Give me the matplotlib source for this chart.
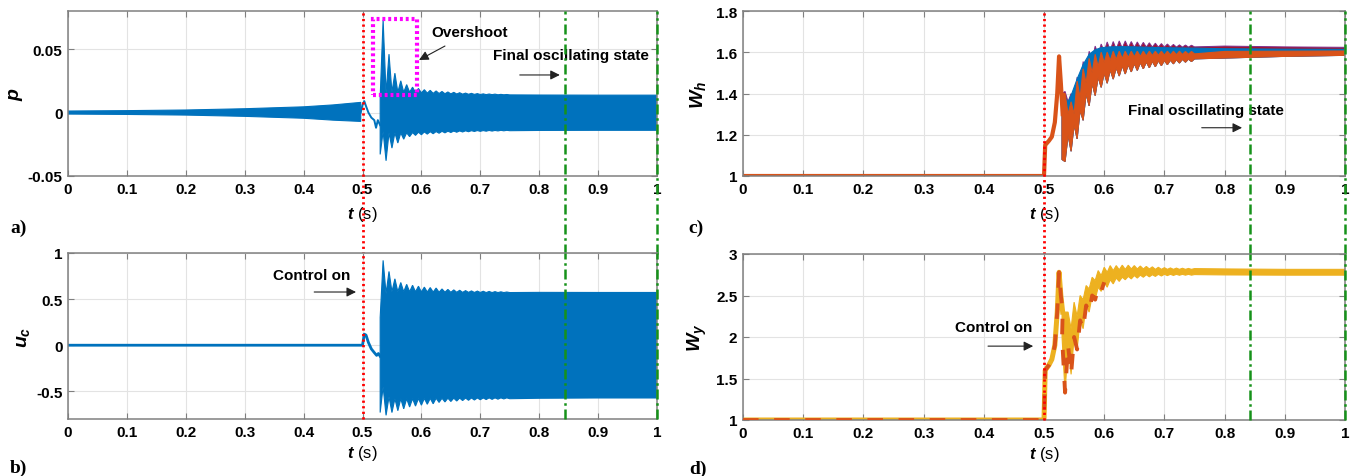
import numpy as np
import matplotlib
matplotlib.use("Agg")
import matplotlib.pyplot as plt
from matplotlib.patches import Rectangle

plt.rcParams.update({
    "font.family": ["Liberation Sans", "DejaVu Sans"],
    "font.weight": "bold",
    "mathtext.fontset": "custom",
    "mathtext.rm": "Liberation Sans:bold",
    "mathtext.it": "Liberation Sans:italic:bold",
    "mathtext.bf": "Liberation Sans:bold",
})

# ---------------- data ----------------
# common time grid of the oscillation envelopes (s)
t_osc = [0.530, 0.535, 0.540, 0.545, 0.550, 0.555, 0.560, 0.565, 0.570, 0.575,
         0.580, 0.585, 0.590, 0.595, 0.600, 0.605, 0.610, 0.615, 0.620, 0.625,
         0.630, 0.635, 0.640, 0.645, 0.650, 0.655, 0.660, 0.665, 0.670, 0.675,
         0.680, 0.685, 0.690, 0.695, 0.700, 0.705, 0.710, 0.715, 0.720, 0.725,
         0.730, 0.735, 0.740, 0.745, 0.750, 0.800, 0.900, 1.000]

# a) p
p_pre_t = [0.0, 0.1, 0.2, 0.3, 0.4, 0.45, 0.497]
p_pre_up = [0.0012, 0.0015, 0.002, 0.003, 0.0045, 0.006, 0.008]
p_pre_lo = [-0.0012, -0.0015, -0.002, -0.003, -0.0045, -0.006, -0.007]
p_tr_t = [0.497, 0.500, 0.503, 0.506, 0.510, 0.515, 0.520, 0.523, 0.526, 0.530]
p_tr = [0.0, 0.006, 0.009, 0.005, 0.0, -0.004, -0.006, -0.012, -0.006, -0.010]
p_up = [0.012, 0.073, 0.015, 0.046, 0.016, 0.031, 0.016, 0.025, 0.016, 0.022,
        0.016, 0.020, 0.0158, 0.019, 0.0155, 0.018, 0.0153, 0.0175, 0.0151, 0.017,
        0.015, 0.0166, 0.0148, 0.0162, 0.0147, 0.0159, 0.0146, 0.0156, 0.0145, 0.0153,
        0.0144, 0.0151, 0.0143, 0.0149, 0.0142, 0.0147, 0.0141, 0.0146, 0.0141, 0.0145,
        0.014, 0.0143, 0.014, 0.0142, 0.0139, 0.0138, 0.0137, 0.0137]
p_lo = [-0.033, -0.015, -0.038, -0.016, -0.028, -0.016, -0.024, -0.016, -0.021, -0.016,
        -0.019, -0.0158, -0.018, -0.0155, -0.0175, -0.0153, -0.017, -0.0151, -0.0167, -0.015,
        -0.0163, -0.0148, -0.0160, -0.0147, -0.0157, -0.0146, -0.0155, -0.0145, -0.0153, -0.0144,
        -0.0151, -0.0143, -0.0149, -0.0142, -0.0148, -0.0142, -0.0147, -0.0141, -0.0146, -0.0141,
        -0.0145, -0.014, -0.0144, -0.014, -0.0143, -0.0141, -0.014, -0.014]

# b) u_c
u_tr_t = [0.0, 0.500, 0.503, 0.506, 0.510, 0.515, 0.520, 0.524, 0.527, 0.530]
u_tr = [0.0, 0.0, 0.12, 0.11, 0.03, -0.04, -0.08, -0.11, -0.09, -0.12]
u_up = [0.30, 0.92, 0.56, 0.80, 0.58, 0.72, 0.58, 0.68, 0.58, 0.66,
        0.58, 0.65, 0.58, 0.64, 0.578, 0.63, 0.577, 0.625, 0.576, 0.62,
        0.575, 0.61, 0.575, 0.605, 0.574, 0.60, 0.574, 0.596, 0.573, 0.592,
        0.573, 0.589, 0.572, 0.587, 0.572, 0.585, 0.571, 0.583, 0.571, 0.581,
        0.571, 0.579, 0.571, 0.577, 0.571, 0.573, 0.572, 0.572]
u_lo = [-0.73, -0.45, -0.76, -0.56, -0.73, -0.58, -0.71, -0.58, -0.69, -0.58,
        -0.67, -0.58, -0.66, -0.578, -0.65, -0.577, -0.64, -0.576, -0.635, -0.575,
        -0.62, -0.575, -0.615, -0.574, -0.61, -0.574, -0.605, -0.573, -0.60, -0.573,
        -0.597, -0.572, -0.594, -0.572, -0.591, -0.572, -0.589, -0.571, -0.587, -0.571,
        -0.585, -0.571, -0.582, -0.571, -0.58, -0.575, -0.572, -0.572]

# c) W_h (several elements overlapping)
wh_tr_t = [0.0, 0.500, 0.502, 0.508, 0.513, 0.518, 0.522, 0.525, 0.528, 0.531]
wh_tr = [1.0, 1.0, 1.15, 1.17, 1.19, 1.26, 1.40, 1.58, 1.45, 1.30]
wh_or_up = [1.40, 1.40, 1.30, 1.36, 1.30, 1.46, 1.38, 1.52, 1.45, 1.57,
            1.50, 1.59, 1.53, 1.60, 1.55, 1.60, 1.56, 1.605, 1.565, 1.605,
            1.57, 1.605, 1.575, 1.605, 1.578, 1.605, 1.58, 1.605, 1.582, 1.605,
            1.584, 1.605, 1.585, 1.605, 1.586, 1.605, 1.587, 1.605, 1.588, 1.605,
            1.589, 1.604, 1.59, 1.604, 1.592, 1.604, 1.605, 1.606]
wh_or_lo = [1.08, 1.07, 1.20, 1.12, 1.25, 1.18, 1.32, 1.27, 1.40, 1.34,
            1.45, 1.39, 1.48, 1.43, 1.50, 1.45, 1.515, 1.47, 1.525, 1.485,
            1.535, 1.495, 1.54, 1.505, 1.545, 1.512, 1.55, 1.52, 1.553, 1.525,
            1.556, 1.53, 1.559, 1.535, 1.56, 1.54, 1.562, 1.544, 1.564, 1.548,
            1.566, 1.552, 1.567, 1.555, 1.568, 1.572, 1.58, 1.585]
wh_rd_up = [1.40, 1.41, 1.36, 1.40, 1.35, 1.48, 1.42, 1.555, 1.50, 1.605,
            1.56, 1.63, 1.59, 1.64, 1.605, 1.65, 1.61, 1.652, 1.615, 1.655,
            1.62, 1.655, 1.622, 1.652, 1.623, 1.65, 1.624, 1.648, 1.625, 1.646,
            1.625, 1.644, 1.625, 1.642, 1.625, 1.64, 1.625, 1.638, 1.625, 1.636,
            1.625, 1.635, 1.625, 1.634, 1.626, 1.63, 1.626, 1.624]
wh_bl_t = [0.530, 0.540, 0.545, 0.555, 0.565, 0.575, 0.585, 0.595, 0.610, 0.630,
           0.650, 0.700, 0.750, 0.800, 0.900, 1.000]
wh_bl_up = [1.40, 1.36, 1.39, 1.47, 1.54, 1.59, 1.612, 1.622, 1.626, 1.627,
            1.626, 1.622, 1.62, 1.617, 1.615, 1.614]

# d) W_y
wy_tr_t = [0.0, 0.500, 0.502, 0.508, 0.513, 0.518, 0.522, 0.525, 0.528, 0.531]
wy_tr = [1.0, 1.0, 1.60, 1.66, 1.73, 1.90, 2.30, 2.78, 2.50, 2.30]
wy_up = [2.30, 2.30, 2.30, 2.10, 2.42, 2.25, 2.50, 2.45, 2.62, 2.58,
         2.72, 2.68, 2.80, 2.74, 2.84, 2.78, 2.86, 2.80, 2.86, 2.81,
         2.865, 2.815, 2.865, 2.82, 2.86, 2.82, 2.855, 2.82, 2.85, 2.82,
         2.845, 2.815, 2.84, 2.815, 2.835, 2.815, 2.832, 2.815, 2.83, 2.815,
         2.828, 2.815, 2.826, 2.815, 2.824, 2.82, 2.815, 2.815]
wy_lo = [2.00, 1.33, 1.90, 1.55, 2.00, 1.85, 2.20, 2.10, 2.38, 2.30,
         2.50, 2.45, 2.60, 2.55, 2.66, 2.60, 2.69, 2.64, 2.71, 2.67,
         2.72, 2.69, 2.73, 2.70, 2.74, 2.71, 2.745, 2.72, 2.75, 2.725,
         2.75, 2.73, 2.755, 2.735, 2.755, 2.74, 2.755, 2.742, 2.755, 2.744,
         2.755, 2.745, 2.755, 2.745, 2.752, 2.748, 2.745, 2.745]
n_dash = 15  # the dashed trace of W_y shows inside the band up to ~0.6 s

t_control = 0.5
t_final = [0.843, 1.0]
xticks = [0, 0.1, 0.2, 0.3, 0.4, 0.5, 0.6, 0.7, 0.8, 0.9, 1]
xticklabels = ["0", "0.1", "0.2", "0.3", "0.4", "0.5", "0.6", "0.7", "0.8", "0.9", "1"]

BLUE, ORANGE, YELLOW = "#0072BD", "#D95319", "#EDB120"
PURPLE, DRED = "#7E2F8E", "#A2142F"
GREEN, RED, MAGENTA = "#16921A", "#FF0000", "#FF00FF"

W, H = 1361, 477
fig = plt.figure(figsize=(W / 100, H / 100), dpi=100)


def box(x0, y0, x1, y1):
    return [x0 / W, 1 - y1 / H, (x1 - x0) / W, (y1 - y0) / H]


ax_a = fig.add_axes(box(68, 12, 657, 177))
ax_c = fig.add_axes(box(743, 12, 1345, 177))
ax_b = fig.add_axes(box(68, 254, 657, 420))
ax_d = fig.add_axes(box(743, 255, 1345, 421))


def band(ax, t_up, up, t_lo, lo, color, z=2, ec=None, lw=0.8):
    ax.fill(list(t_up) + list(t_lo)[::-1], list(up) + list(lo)[::-1],
            fc=color, ec=ec or color, lw=lw, zorder=z)


def style(ax, ylim, yticks, ylabels, ylabel, ylab_x, xlab_y, tag, tag_y):
    ax.set_xlim(0, 1)
    ax.set_ylim(*ylim)
    ax.set_xticks(xticks)
    ax.set_xticklabels(xticklabels)
    ax.set_yticks(yticks)
    ax.set_yticklabels(ylabels)
    ax.tick_params(direction="in", top=True, right=True, length=4, width=0.8,
                   color="#7f7f7f", labelsize=11, pad=4)
    ax.grid(True, color="#e3e3e3", lw=0.8)
    ax.set_axisbelow(True)
    for s in ax.spines.values():
        s.set_color("#808080")
        s.set_linewidth(1.1)
    ax.set_ylabel(ylabel, fontsize=14)
    ax.yaxis.set_label_coords(ylab_x, 0.5)
    ax.yaxis.label.set_verticalalignment("center")
    ax.set_xlabel(r"$t$ (s)", fontsize=12)
    ax.xaxis.set_label_coords(0.5, xlab_y)
    ax.xaxis.label.set_verticalalignment("center")
    ax.text(tag[1], tag_y, tag[0], transform=ax.transAxes, fontsize=14,
            family="Liberation Serif", weight="bold", ha="left", va="center")


def markers(ax, y0, y1):
    tr = ax.get_xaxis_transform()
    ax.plot([t_control, t_control], [y0, y1], transform=tr, color=RED, lw=2,
            ls=(0, (0.8, 1.2)), clip_on=False, zorder=4)
    for tf in t_final:
        ax.plot([tf, tf], [y0, y1], transform=tr, color=GREEN, lw=1.8,
                ls=(0, (4, 1.5, 1, 1.5)), clip_on=False, zorder=4)


def arrow(ax, x0, x1, y0, y1):
    ax.annotate("", xy=(x1, y1), xytext=(x0, y0),
                arrowprops=dict(arrowstyle="-|>", color="#222222", lw=0.8,
                                mutation_scale=14, shrinkA=0, shrinkB=0),
                zorder=6)


# ---- a) p ----
band(ax_a, p_pre_t, p_pre_up, p_pre_t, p_pre_lo, BLUE)
ax_a.plot(p_tr_t, p_tr, color=BLUE, lw=1.4, zorder=2)
band(ax_a, t_osc, p_up, t_osc, p_lo, BLUE)
ax_a.add_patch(Rectangle((0.517, 0.0139), 0.593 - 0.517, 0.0737 - 0.0139, fill=False,
                         ec=MAGENTA, lw=3, ls=(0, (0.7, 0.7)), zorder=5))
ax_a.text(0.6825, 0.0635, "Overshoot", fontsize=11, ha="center", va="center")
arrow(ax_a, 0.640, 0.596, 0.0524, 0.0414)
ax_a.text(0.854, 0.0453, "Final oscillating state", fontsize=11, ha="center", va="center")
arrow(ax_a, 0.767, 0.835, 0.0296, 0.0296)
style(ax_a, (-0.05, 0.08), [-0.05, 0, 0.05], ["-0.05", "0", "0.05"], r"$p$",
      -0.088, -0.23, ("a)", -0.098), -0.31)
markers(ax_a, -0.47, 1)

# ---- b) u_c ----
ax_b.plot(u_tr_t, u_tr, color=BLUE, lw=2.0, zorder=2)
band(ax_b, t_osc, u_up, t_osc, u_lo, BLUE)
ax_b.text(0.413, 0.761, "Control on", fontsize=11, ha="center", va="center")
arrow(ax_b, 0.418, 0.489, 0.577, 0.577)
style(ax_b, (-0.8, 1), [-0.5, 0, 0.5, 1], ["-0.5", "0", "0.5", "1"], r"$u_c$",
      -0.075, -0.2, ("b)", -0.098), -0.29)
markers(ax_b, 0, 1)

# ---- c) W_h ----
band(ax_c, t_osc, wh_rd_up, t_osc, wh_or_lo, DRED, ec=PURPLE, lw=0.7)
band(ax_c, wh_bl_t, wh_bl_up, t_osc, wh_or_lo, BLUE)
ax_c.plot(wh_tr_t, wh_tr, color=ORANGE, lw=3.0, zorder=2, solid_joinstyle="round")
band(ax_c, t_osc, wh_or_up, t_osc, wh_or_lo, ORANGE)
ax_c.text(0.769, 1.322, "Final oscillating state", fontsize=11, ha="center", va="center")
arrow(ax_c, 0.762, 0.829, 1.234, 1.234)
style(ax_c, (1, 1.8), [1, 1.2, 1.4, 1.6, 1.8], ["1", "1.2", "1.4", "1.6", "1.8"],
      r"$W_h$", -0.075, -0.23, ("c)", -0.09), -0.31)
markers(ax_c, -0.47, 1)

# ---- d) W_y ----
ax_d.plot(wy_tr_t, wy_tr, color=YELLOW, lw=3.6, zorder=2, solid_joinstyle="round")
band(ax_d, t_osc, wy_up, t_osc, wy_lo, YELLOW)
ax_d.plot(wy_tr_t + t_osc[:n_dash], wy_tr + wy_lo[:n_dash], color=ORANGE, lw=2.8,
          ls=(0, (4, 4)), zorder=3)
ax_d.text(0.417, 2.12, "Control on", fontsize=11, ha="center", va="center")
arrow(ax_d, 0.407, 0.482, 1.89, 1.89)
style(ax_d, (1, 3), [1, 1.5, 2, 2.5, 3], ["1", "1.5", "2", "2.5", "3"], r"$W_y$",
      -0.075, -0.2, ("d)", -0.09), -0.29)
markers(ax_d, 0, 1)

fig.savefig("out.png", dpi=100)
